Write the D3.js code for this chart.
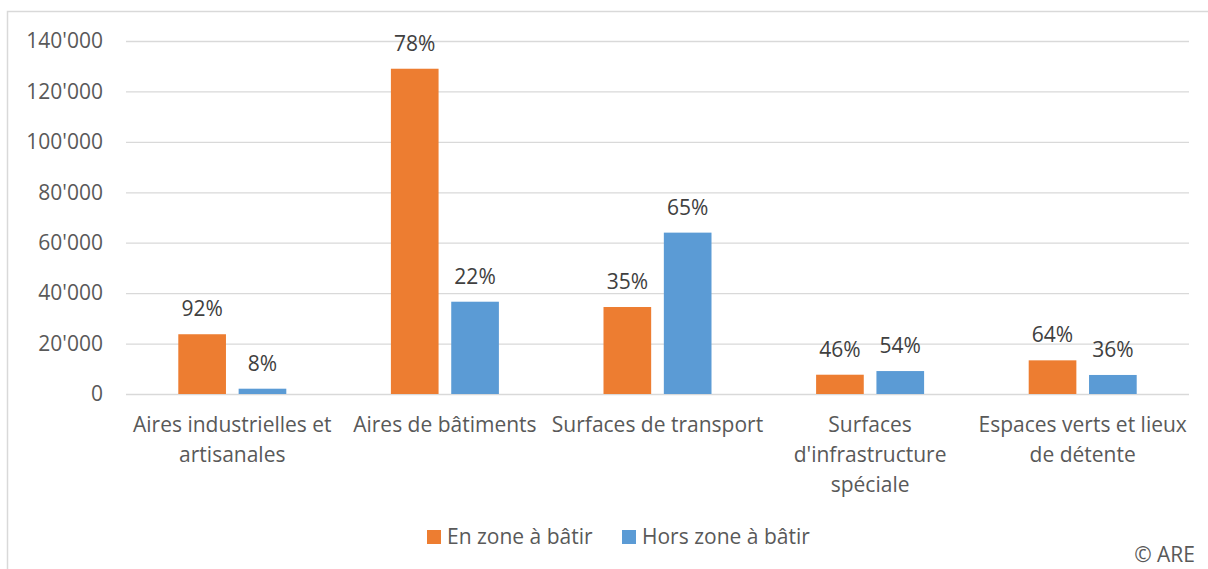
<!DOCTYPE html>
<head>
<meta charset="utf-8">
<title>Surfaces en zone / hors zone à bâtir</title>
<style>
body {
  margin: 0;
  background: #fff;
}
svg {
  font-family: "Open Sans", sans-serif;
  font-size: 21px;
}
.grid line {
  stroke: #d9d9d9;
  stroke-width: 1.3;
}
.grid path {
  display: none;
}
text {
  fill: #595959;
}
.lbl {
  fill: #404040;
}
</style>
</head>
<body>
<svg id="chart"></svg>

<script src="https://d3js.org/d3.v7.min.js"></script>
<script>

var categories = [
  "Aires industrielles et\nartisanales",
  "Aires de bâtiments",
  "Surfaces de transport",
  "Surfaces\nd'infrastructure\nspéciale",
  "Espaces verts et lieux\nde détente"
];
var series = ["En zone à bâtir", "Hors zone à bâtir"];
var colors = ["#ed7d31", "#5b9bd5"];

var enZone   = [23700, 129000, 34500, 7650, 13350];
var horsZone = [2100, 36600, 64000, 9100, 7550];
var pctEnZone   = ["92%", "78%", "35%", "46%", "64%"];
var pctHorsZone = ["8%", "22%", "65%", "54%", "36%"];

var yTicks = [0, 20000, 40000, 60000, 80000, 100000, 120000, 140000];

var width = 1208, height = 569;
var margin = {top: 41, right: 19, bottom: 175, left: 126};
var plotW = width - margin.left - margin.right,
    plotH = height - margin.top - margin.bottom;

var svg = d3.select("#chart")
    .attr("width", width)
    .attr("height", height);

// chart area frame (only top and left edges are visible in the picture)
svg.append("path")
    .attr("d", "M7.5,569 V11.5 H1208")
    .attr("fill", "none")
    .attr("stroke", "#d9d9d9")
    .attr("stroke-width", 1.5);

var g = svg.append("g")
    .attr("transform", "translate(" + margin.left + "," + margin.top + ")");

var y = d3.scaleLinear()
    .domain([0, 140000])
    .range([plotH, 0]);

var x0 = d3.scaleBand()
    .domain(categories)
    .range([0, plotW]);

var groupW = 108;
var x1 = d3.scaleBand()
    .domain(series)
    .range([(x0.bandwidth() - groupW) / 2, (x0.bandwidth() + groupW) / 2])
    .paddingInner(0.21);

var fmt = function(d) {
  return d3.format(",")(d).replace(/,/g, "'");
};

var yAxis = d3.axisLeft(y)
    .tickValues(yTicks)
    .tickSize(-plotW)
    .tickPadding(23)
    .tickFormat(fmt);

var gy = g.append("g")
    .attr("class", "grid")
    .call(yAxis);
gy.selectAll("text")
    .attr("fill", "#595959")
    .style("font-size", "21px")
    .style("font-family", "'Open Sans', sans-serif");

var rows = categories.map(function(c, i) {
  return {cat: c, values: [
    {s: series[0], v: enZone[i], p: pctEnZone[i]},
    {s: series[1], v: horsZone[i], p: pctHorsZone[i]}
  ]};
});

var groups = g.selectAll(".cat")
    .data(rows)
  .enter().append("g")
    .attr("class", "cat")
    .attr("transform", function(d) { return "translate(" + x0(d.cat) + ",0)"; });

groups.selectAll("rect")
    .data(function(d) { return d.values; })
  .enter().append("rect")
    .attr("x", function(d) { return x1(d.s); })
    .attr("width", x1.bandwidth())
    .attr("y", function(d) { return y(d.v); })
    .attr("height", function(d) { return plotH - y(d.v); })
    .attr("fill", function(d, i) { return colors[i]; });

groups.selectAll(".lbl")
    .data(function(d) { return d.values; })
  .enter().append("text")
    .attr("class", "lbl")
    .attr("x", function(d) { return x1(d.s) + x1.bandwidth() / 2; })
    .attr("y", function(d) { return y(d.v) - 18; })
    .attr("text-anchor", "middle")
    .text(function(d) { return d.p; });

// category labels, wrapped as in the original
groups.append("text")
    .attr("text-anchor", "middle")
    .attr("y", plotH + 38)
    .each(function(d) {
      var t = d3.select(this);
      d.cat.split("\n").forEach(function(line, i) {
        t.append("tspan")
            .attr("x", x0.bandwidth() / 2)
            .attr("dy", i === 0 ? 0 : 30)
            .text(line);
      });
    });

// legend
var legendX = [427, 622];
var legend = svg.selectAll(".legend")
    .data(series)
  .enter().append("g")
    .attr("class", "legend")
    .attr("transform", function(d, i) { return "translate(" + legendX[i] + ",530)"; });

legend.append("rect")
    .attr("width", 14)
    .attr("height", 14)
    .attr("fill", function(d, i) { return colors[i]; });

legend.append("text")
    .attr("x", 20)
    .attr("y", 14)
    .text(function(d) { return d; });

svg.append("text")
    .attr("x", 1195)
    .attr("y", 562)
    .attr("text-anchor", "end")
    .text("© ARE");

</script>
</body>
